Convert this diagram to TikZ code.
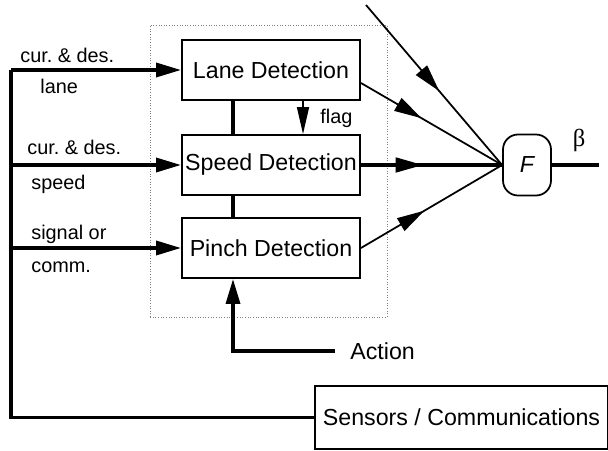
\documentclass[tikz,border=0pt]{standalone}
\usepackage{fontspec}
\setmainfont{Liberation Sans}
\newfontfamily\greekfont{Liberation Serif}
\usetikzlibrary{arrows.meta,decorations.markings,calc}
\frenchspacing

\begin{document}
\begin{tikzpicture}
[blockdecorate/.style={shape=rectangle,draw,line width=1.1pt,minimum width=3.56cm,minimum height=1.2cm,inner sep=0pt,font=\fontsize{13.2}{15}\selectfont},%
  labeldecorate/.style={anchor=west,inner sep=0pt,font=\fontsize{11.3}{13}\selectfont},
  busdecorate/.style={line width=1.9pt},
  inputdecorate/.style={line width=1.9pt,-{Triangle[length=0.5cm,width=0.28cm]}},
  feeddecorate/.style={postaction={decorate},decoration={markings,mark=at position #1 with {\arrow{Triangle[length=0.55cm,width=0.29cm]}}}}]
\useasboundingbox (0,0) rectangle (12.16,9);
%% dotted frame round the detectors
\draw[gray,densely dotted,line width=0.5pt] (3.0,2.66) rectangle (7.74,8.5);
%% detector blocks
\foreach \nodename/\y/\text in {lane/7.6/Lane Detection, speed/5.7/Speed Detection, pinch/4.04/Pinch Detection} {
  \node (\nodename) at (5.42,\y) [blockdecorate] {\text};
}
\node (F) at (10.54,5.7) [draw,line width=1pt,rounded corners=0.3cm,minimum width=0.96cm,minimum height=1.22cm,inner sep=0pt,font=\fontsize{13.2}{15}\selectfont\itshape] {F};
\node (sensors) at (9.23,0.65) [blockdecorate,line width=0.9pt,minimum width=5.86cm,minimum height=1.26cm] {Sensors / Communications};
\node (action) at (7.0,1.98) [labeldecorate,font=\fontsize{13.2}{15}\selectfont] {Action};
\node (beta) at (11.58,6.2) [font=\greekfont\fontsize{14}{16}\selectfont,inner sep=0pt] {β};
\node (flag) at (6.4,6.64) [labeldecorate] {flag};
%% input labels
\foreach \labelname/\x/\y/\text in {lanecur/0.4/7.9/cur. \& des., lanein/0.8/7.28/lane,
    speedcur/0.54/6.06/cur. \& des., speedin/0.62/5.32/speed,
    pinchcur/0.62/4.32/signal or, pinchin/0.62/3.66/comm.} {
  \node (\labelname) at (\x,\y) [labeldecorate] {\text};
}
\coordinate (bus) at (0.22,7.6);
\coordinate (ext) at (7.32,8.9);
\coordinate (corner) at (4.66,1.98);
\coordinate (out) at (11.98,5.7);
%% bus from the sensors and the inputs
\draw[busdecorate] (bus) |- (sensors.west);
\foreach \nodename in {lane,speed,pinch} {
  \draw[inputdecorate] (bus |- \nodename.west) -- (\nodename.west);
}
%% links between the blocks
\draw[busdecorate] ([xshift=-0.76cm]lane.south) -- ([xshift=-0.76cm]speed.north);
\draw[busdecorate] ([xshift=-0.76cm]speed.south) -- ([xshift=-0.76cm]pinch.north);
\draw[line width=0.9pt,-{Triangle[length=0.54cm,width=0.24cm]}] ([xshift=0.64cm]lane.south) -- ([xshift=0.64cm]speed.north);
\draw[busdecorate,-{Triangle[length=0.5cm,width=0.28cm]}] ([xshift=-0.3cm]action.west) -- (corner) -- (corner |- pinch.south);
%% into F and out
\draw[line width=1pt,feeddecorate=0.54] (ext) -- (F.west);
\draw[line width=1pt,feeddecorate=0.43] ([yshift=-0.26cm]lane.east) -- (F.west);
\draw[busdecorate,feeddecorate=0.44] (speed.east) -- (F.west);
\draw[line width=1pt,feeddecorate=0.45] (pinch.east) -- (F.west);
\draw[busdecorate] (F.east) -- (out);
\end{tikzpicture}
\end{document}
